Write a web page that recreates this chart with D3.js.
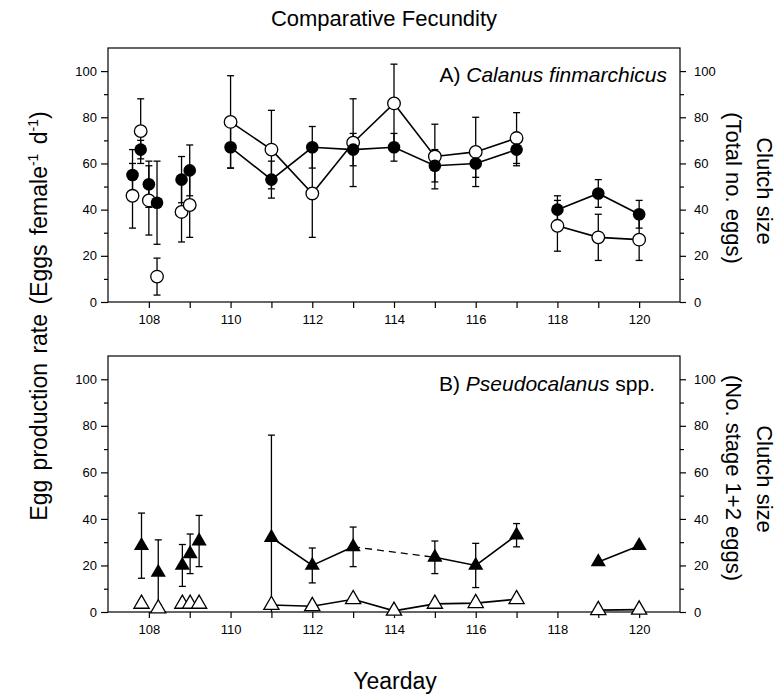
<!DOCTYPE html>
<html>
<head>
<meta charset="utf-8">
<script src="https://cdn.jsdelivr.net/npm/d3@7"></script>
<style>
  body { margin: 0; background: #fff; }
  svg { font-family: "Liberation Sans", Arial, sans-serif; }
  .axis path, .axis line { stroke: #000; stroke-width: 1.2; }
  .axis text { font-size: 13px; fill: #000; }
</style>
</head>
<body>
<svg id="chart" width="782" height="696"></svg>
<script>
// Panel A - Calanus finmarchicus (circles)
let calDays = [107.6, 107.8, 108.0, 108.2, 108.8, 109.0, 110, 111, 112, 113, 114, 115, 116, 117, 118, 119, 120];
let calEpr = [55, 66, 51, 43, 53, 57, 67, 53, 67, 66, 67, 59, 60, 66, 40, 47, 38]; //filled circles
let calEprErr = [11, 4, 10, 18, 10, 11, 9, 8, 9, 7, 6, 7, 6, 7, 6, 6, 6];
let calClutch = [46, 74, 44, 11, 39, 42, 78, 66, 47, 69, 86, 63, 65, 71, 33, 28, 27]; //open circles
let calClutchErr = [14, 14, 15, 8, 13, 14, 20, 17, 19, 19, 17, 14, 15, 11, 11, 10, 9];
let calSegments = [[110, 117], [118, 120]];

// Panel B - Pseudocalanus spp. (triangles)
let pseDays = [107.82, 108.23, 108.82, 109.01, 109.23, 111, 112, 113, 115, 116, 117, 119, 120];
let pseEpr = [28.5, 17, 20, 25, 30.5, 32, 20, 28, 23.5, 20, 33, 21.5, 28.5]; //filled triangles
let pseEprErr = [14, 14, 9, 8.5, 11, 44, 7.5, 8.5, 7, 9.5, 5, 0, 0];
let pseSolid = [[111, 113], [115, 117], [119, 120]];
let pseDashed = [[113, 115]];
let pseClutchDays = [107.82, 108.23, 108.82, 109.01, 109.23, 111, 112, 113, 114, 115, 116, 117, 119, 120];
let pseClutch = [3.5, 1.5, 3.5, 3.5, 3.5, 3, 2.5, 5.5, 0.5, 3.5, 3.8, 5.5, 0.8, 1]; //open triangles
let pseClutchSegments = [[111, 117], [119, 120]];

let yTicks = [0, 20, 40, 60, 80, 100];
let yMinor = [10, 30, 50, 70, 90];
let xTicks = [108, 109, 110, 111, 112, 113, 114, 115, 116, 117, 118, 119, 120];

const svg = d3.select("#chart");
const left = 108, right = 680;

let x = d3.scaleLinear().domain([107, 121]).range([left, right]);

function series(days, vals) {
  return days.map((d, i) => ({ x: d, y: vals[i] }));
}

function inSeg(pts, seg) {
  return pts.filter(p => p.x >= seg[0] && p.x <= seg[1]);
}

function drawPanel(top, bottom) {
  let y = d3.scaleLinear().domain([0, 110]).range([bottom, top]);
  let g = svg.append("g");

  // frame
  g.append("rect")
    .attr("x", left).attr("y", top)
    .attr("width", right - left).attr("height", bottom - top)
    .attr("fill", "none").attr("stroke", "#000").attr("stroke-width", 1.2);

  g.append("g").attr("class", "axis")
    .attr("transform", "translate(" + left + ",0)")
    .call(d3.axisLeft(y).tickValues(yTicks).tickSize(7).tickPadding(4))
    .call(a => a.select(".domain").remove());
  g.append("g").attr("class", "axis")
    .attr("transform", "translate(" + left + ",0)")
    .call(d3.axisLeft(y).tickValues(yMinor).tickSize(4).tickFormat(""))
    .call(a => a.select(".domain").remove());
  g.append("g").attr("class", "axis")
    .attr("transform", "translate(" + right + ",0)")
    .call(d3.axisRight(y).tickValues(yTicks).tickSize(6).tickPadding(8))
    .call(a => a.select(".domain").remove());
  g.append("g").attr("class", "axis")
    .attr("transform", "translate(" + right + ",0)")
    .call(d3.axisRight(y).tickValues(yMinor).tickSize(4).tickFormat(""))
    .call(a => a.select(".domain").remove());
  g.append("g").attr("class", "axis")
    .attr("transform", "translate(0," + bottom + ")")
    .call(d3.axisBottom(x).tickValues(xTicks).tickSize(6).tickPadding(7)
      .tickFormat(d => d % 2 == 0 ? d : ""))
    .call(a => a.select(".domain").remove());

  return { g: g, y: y };
}

let line = (y) => d3.line().x(d => x(d.x)).y(d => y(d.y));

function errorBars(g, y, days, vals, errs) {
  days.forEach((d, i) => {
    if (!errs[i]) return;
    let lo = Math.max(0, vals[i] - errs[i]);
    let hi = vals[i] + errs[i];
    g.append("line")
      .attr("x1", x(d)).attr("x2", x(d))
      .attr("y1", y(lo)).attr("y2", y(hi))
      .attr("stroke", "#000").attr("stroke-width", 1.3);
    [lo, hi].forEach(v => {
      if (v <= 0) return;
      g.append("line")
        .attr("x1", x(d) - 3.5).attr("x2", x(d) + 3.5)
        .attr("y1", y(v)).attr("y2", y(v))
        .attr("stroke", "#000").attr("stroke-width", 1.3);
    });
  });
}

// ---- Panel A ----
let A = drawPanel(48, 302);
let calFilled = series(calDays, calEpr);
let calOpen = series(calDays, calClutch);

errorBars(A.g, A.y, calDays, calClutch, calClutchErr);
errorBars(A.g, A.y, calDays, calEpr, calEprErr);

calSegments.forEach(seg => {
  [calOpen, calFilled].forEach(s => {
    A.g.append("path").datum(inSeg(s, seg))
      .attr("d", line(A.y))
      .attr("fill", "none").attr("stroke", "#000").attr("stroke-width", 1.6);
  });
});

A.g.selectAll(".open").data(calOpen).enter().append("circle")
  .attr("cx", d => x(d.x)).attr("cy", d => A.y(d.y)).attr("r", 6.3)
  .attr("fill", "#fff").attr("stroke", "#000").attr("stroke-width", 1.3);
A.g.selectAll(".filled").data(calFilled).enter().append("circle")
  .attr("cx", d => x(d.x)).attr("cy", d => A.y(d.y)).attr("r", 6.3)
  .attr("fill", "#000");

A.g.append("text")
  .attr("x", 667).attr("y", 82).attr("text-anchor", "end")
  .style("font-size", "21px")
  .html("A) <tspan font-style='italic'>Calanus finmarchicus</tspan>");

// ---- Panel B ----
let B = drawPanel(356, 612);
let pseFilled = series(pseDays, pseEpr);
let pseOpen = series(pseClutchDays, pseClutch);

errorBars(B.g, B.y, pseDays, pseEpr, pseEprErr);

pseSolid.forEach(seg => {
  B.g.append("path").datum(inSeg(pseFilled, seg))
    .attr("d", line(B.y))
    .attr("fill", "none").attr("stroke", "#000").attr("stroke-width", 1.6);
});
pseDashed.forEach(seg => {
  B.g.append("path").datum(inSeg(pseFilled, seg))
    .attr("d", line(B.y))
    .attr("fill", "none").attr("stroke", "#000").attr("stroke-width", 1.3)
    .attr("stroke-dasharray", "7,5");
});
pseClutchSegments.forEach(seg => {
  B.g.append("path").datum(inSeg(pseOpen, seg))
    .attr("d", line(B.y))
    .attr("fill", "none").attr("stroke", "#000").attr("stroke-width", 1.6);
});

let tri = d3.symbol().type(d3.symbolTriangle).size(100);
B.g.selectAll(".otri").data(pseOpen).enter().append("path")
  .attr("d", tri)
  .attr("transform", d => "translate(" + x(d.x) + "," + B.y(d.y) + ")")
  .attr("fill", "#fff").attr("stroke", "#000").attr("stroke-width", 1.3);
B.g.selectAll(".ftri").data(pseFilled).enter().append("path")
  .attr("d", tri)
  .attr("transform", d => "translate(" + x(d.x) + "," + B.y(d.y) + ")")
  .attr("fill", "#000");

B.g.append("text")
  .attr("x", 655).attr("y", 391).attr("text-anchor", "end")
  .style("font-size", "21px")
  .html("B) <tspan font-style='italic'>Pseudocalanus</tspan> spp.");

// ---- titles ----
svg.append("text")
  .attr("x", 384).attr("y", 26).attr("text-anchor", "middle")
  .style("font-size", "22px")
  .text("Comparative Fecundity");

svg.append("text")
  .attr("x", 395).attr("y", 689).attr("text-anchor", "middle")
  .style("font-size", "23px")
  .text("Yearday");

svg.append("text")
  .attr("transform", "translate(47,316) rotate(-90)")
  .attr("text-anchor", "middle")
  .style("font-size", "23px")
  .style("word-spacing", "3px")
  .html("Egg production rate  (Eggs  female<tspan dy='-9' font-size='14px'>-1</tspan><tspan dy='9'> d</tspan><tspan dy='-9' font-size='14px'>-1</tspan><tspan dy='9'>)</tspan>");

let rightLabels = [
  { x: 757, y: 191, t: "Clutch size" },
  { x: 726, y: 188, t: "(Total no. eggs)" },
  { x: 757, y: 479, t: "Clutch size" },
  { x: 726, y: 478, t: "(No. stage 1+2 eggs)" }
];
rightLabels.forEach(l => {
  svg.append("text")
    .attr("transform", "translate(" + l.x + "," + l.y + ") rotate(90)")
    .attr("text-anchor", "middle")
    .style("font-size", "22px")
    .text(l.t);
});
</script>
</body>
</html>
